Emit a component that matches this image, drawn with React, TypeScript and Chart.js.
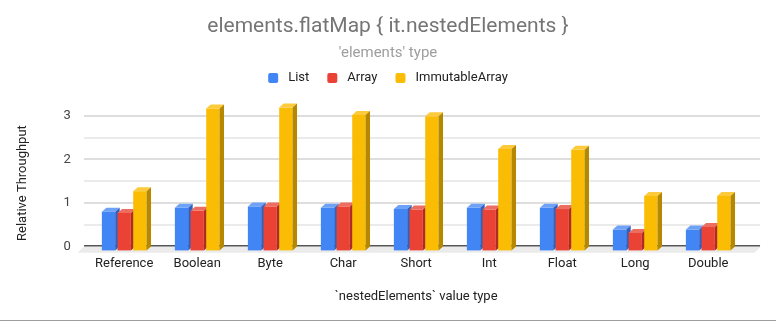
import React, { useEffect, useRef } from 'react';
import { Chart, registerables } from 'chart.js';

Chart.register(...registerables);

const TITLE = 'elements.flatMap { it.nestedElements }';
const SUBTITLE = "'elements' type";
const X_TITLE = '`nestedElements` value type';
const Y_TITLE = 'Relative Throughput';
const CATEGORIES = ['Reference', 'Boolean', 'Byte', 'Char', 'Short', 'Int', 'Float', 'Long', 'Double'];
const SERIES_NAMES = ['List', 'Array', 'ImmutableArray'];
const LIST_VALUES = [0.89, 0.98, 1.01, 0.98, 0.95, 0.98, 0.98, 0.48, 0.48];
const ARRAY_VALUES = [0.86, 0.91, 1.01, 1.01, 0.94, 0.94, 0.95, 0.40, 0.54];
const IMMUTABLE_VALUES = [1.36, 3.26, 3.28, 3.11, 3.08, 2.33, 2.31, 1.25, 1.25];
const Y_TICKS = [0, 1, 2, 3];
const Y_GRID = [0.5, 1, 1.5, 2, 2.5, 3];

const FONT = 'Roboto, Arial, sans-serif';
const FRONT = ['#4285F4', '#EA4335', '#FBBC04'];
const TOP = ['#6ea2f7', '#ee6d61', '#fcca3a'];
const SIDE = ['#2f62c0', '#ad2d24', '#b58800'];
const DX = 4.5;
const DY = 4;

const bars3d = {
  id: 'bars3d',
  beforeDatasetDraw() {
    return false;
  },
  beforeDatasetsDraw(chart: any) {
    const { ctx, chartArea } = chart;
    const y = chart.scales.y;
    const y0 = y.getPixelForValue(0);
    const left = chartArea.left - 3.7;
    const right = chartArea.right + 15.3;
    ctx.save();
    ctx.fillStyle = '#ebebeb';
    ctx.beginPath();
    ctx.moveTo(left, y0);
    ctx.lineTo(right + 1, y0);
    ctx.lineTo(right + 1 - 6.5, y0 + 6.4);
    ctx.lineTo(left - 6.5, y0 + 6.4);
    ctx.closePath();
    ctx.fill();
    Y_GRID.forEach((v) => {
      const py = y.getPixelForValue(v);
      ctx.fillStyle = Number.isInteger(v) ? '#dedede' : '#ebebeb';
      ctx.fillRect(left, Math.round(py) - 1, right - left, 2);
    });
    ctx.fillStyle = '#555555';
    ctx.fillRect(left, Math.round(y0) - 1, right - left, 1.5);
    ctx.restore();
  },
  afterDatasetsDraw(chart: any) {
    const ctx = chart.ctx;
    const n = chart.data.labels.length;
    ctx.save();
    for (let i = 0; i < n; i++) {
      for (let d = 0; d < chart.data.datasets.length; d++) {
        const el = chart.getDatasetMeta(d).data[i];
        if (!el) continue;
        const { x, y, base, width } = el.getProps(['x', 'y', 'base', 'width'], true);
        const l = x - width / 2;
        const r = x + width / 2;
        const ft = y + DY;
        const fb = base + DY;
        ctx.fillStyle = FRONT[d];
        ctx.fillRect(l, ft, width, fb - ft);
        ctx.fillStyle = TOP[d];
        ctx.beginPath();
        ctx.moveTo(l, ft);
        ctx.lineTo(l + DX, y);
        ctx.lineTo(r + DX, y);
        ctx.lineTo(r, ft);
        ctx.closePath();
        ctx.fill();
        ctx.fillStyle = SIDE[d];
        ctx.beginPath();
        ctx.moveTo(r, ft);
        ctx.lineTo(r + DX, y);
        ctx.lineTo(r + DX, base);
        ctx.lineTo(r, fb);
        ctx.closePath();
        ctx.fill();
      }
    }
    ctx.restore();
  },
  afterDraw(chart: any) {
    const { ctx, width, height } = chart;
    const y = chart.scales.y;
    ctx.save();
    ctx.textBaseline = 'middle';
    ctx.textAlign = 'center';
    ctx.fillStyle = '#757575';
    ctx.font = `21px ${FONT}`;
    ctx.fillText(TITLE, width / 2, 27);
    ctx.fillStyle = '#9e9e9e';
    ctx.font = `15px ${FONT}`;
    ctx.fillText(SUBTITLE, width / 2, 53);
    ctx.font = `13px ${FONT}`;
    ctx.textAlign = 'left';
    const ds = chart.data.datasets;
    const BOX = 10;
    const GAP = 10;
    const ITEM_GAP = 18;
    const widths = ds.map((d: any) => ctx.measureText(d.label).width);
    const total = widths.reduce((a: number, w: number) => a + BOX + GAP + w, 0) + ITEM_GAP * (ds.length - 1);
    let lx = width / 2 - total / 2;
    const ly = 78;
    ds.forEach((d: any, i: number) => {
      ctx.fillStyle = d.backgroundColor;
      ctx.beginPath();
      if ((ctx as any).roundRect) (ctx as any).roundRect(lx, ly - BOX / 2, BOX, BOX, 2);
      else ctx.rect(lx, ly - BOX / 2, BOX, BOX);
      ctx.fill();
      ctx.fillStyle = '#222222';
      ctx.fillText(d.label, lx + BOX + GAP, ly);
      lx += BOX + GAP + widths[i] + ITEM_GAP;
    });
    ctx.save();
    ctx.translate(23, (y.getPixelForValue(0) + y.getPixelForValue(3)) / 2 + 2);
    ctx.rotate(-Math.PI / 2);
    ctx.textAlign = 'center';
    ctx.fillStyle = '#222222';
    ctx.font = `13px ${FONT}`;
    ctx.fillText(Y_TITLE, 0, 0);
    ctx.restore();
    ctx.fillStyle = '#9e9e9e';
    ctx.fillRect(0, height - 1, width, 1);
    ctx.restore();
  },
};

export default function App() {
  const ref = useRef<HTMLCanvasElement | null>(null);
  useEffect(() => {
    if (!ref.current) return;
    const series = [LIST_VALUES, ARRAY_VALUES, IMMUTABLE_VALUES];
    const chart = new Chart(ref.current, {
      type: 'bar',
      data: {
        labels: CATEGORIES,
        datasets: SERIES_NAMES.map((name, i) => ({
          label: name,
          data: series[i],
          backgroundColor: FRONT[i],
          borderWidth: 0,
          categoryPercentage: 0.644,
          barPercentage: 0.85,
        })),
      },
      options: {
        responsive: false,
        animation: false,
        devicePixelRatio: 1,
        layout: { padding: { left: 0, right: 31.3, top: 94, bottom: 8 } },
        plugins: {
          title: { display: false },
          subtitle: { display: false },
          legend: { display: false },
          tooltip: { enabled: false },
        },
        scales: {
          x: {
            grid: { display: false, drawTicks: false },
            border: { display: false },
            ticks: {
              color: '#222222',
              font: { family: FONT, size: 13 },
              padding: 9.5,
              autoSkip: false,
              maxRotation: 0,
            },
            title: {
              display: true,
              text: X_TITLE,
              color: '#222222',
              font: { family: FONT, size: 13 },
              padding: { top: 8.4, bottom: 8 },
            },
          },
          y: {
            min: 0,
            max: 3.5,
            afterBuildTicks: (s: any) => {
              s.ticks = Y_TICKS.map((v) => ({ value: v }));
            },
            afterFit: (s: any) => {
              s.width = 87.7;
            },
            grid: { display: false, drawTicks: false },
            border: { display: false },
            ticks: {
              color: '#444444',
              font: { family: FONT, size: 13 },
              padding: 17,
            },
          },
        },
      },
      plugins: [bars3d],
    } as any);
    return () => chart.destroy();
  }, []);
  return (
    <div style={{ position: 'fixed', left: 0, top: 0, width: 776, height: 321, background: '#ffffff' }}>
      <canvas ref={ref} width={776} height={321} style={{ display: 'block' }} />
    </div>
  );
}
